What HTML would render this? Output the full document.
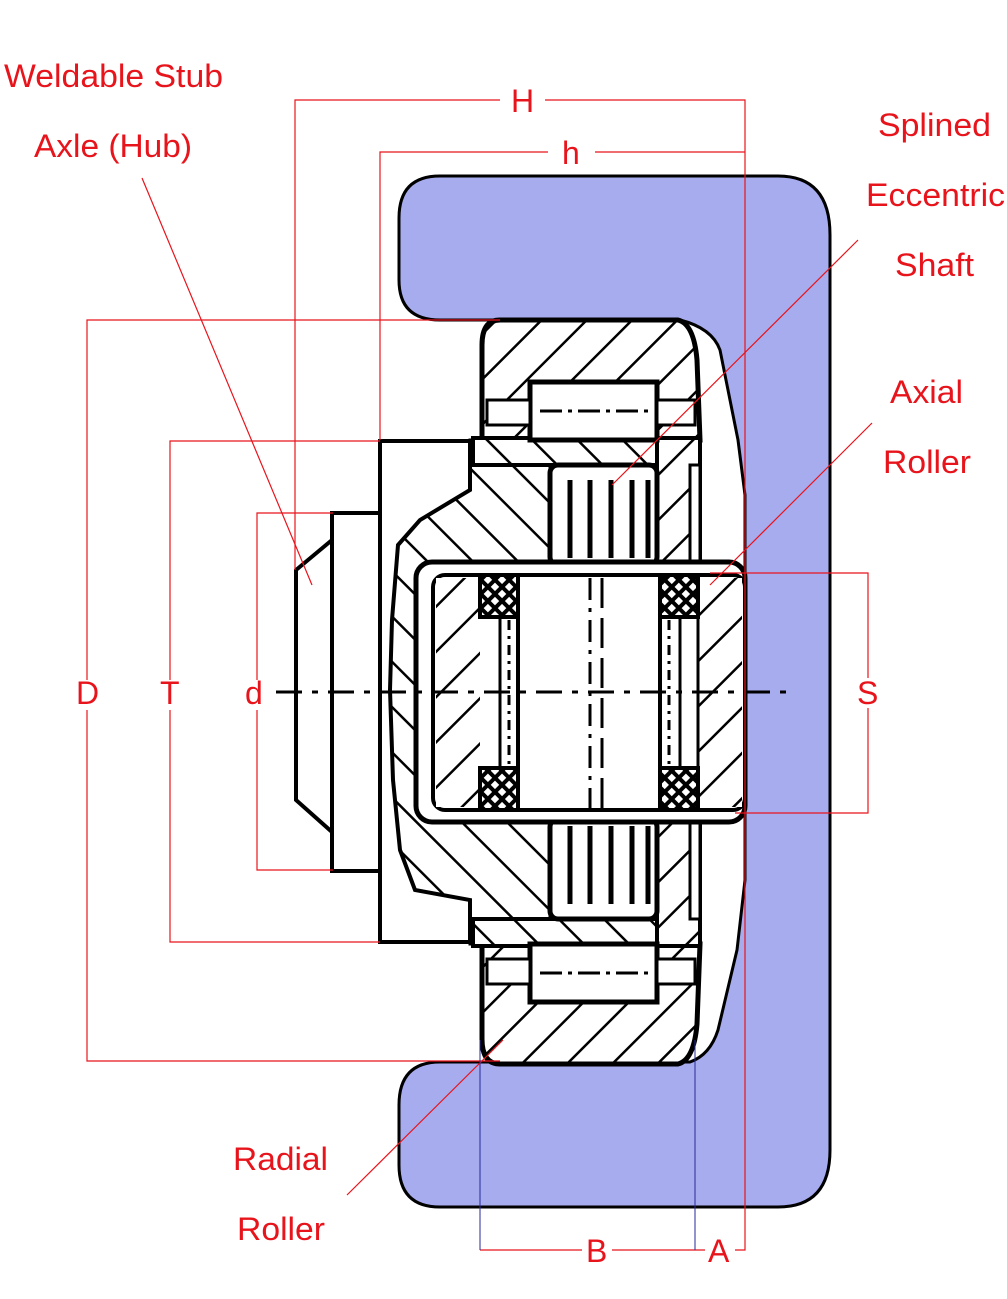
<!DOCTYPE html>
<html><head><meta charset="utf-8"><style>
html,body{margin:0;padding:0;background:#fff}
svg{display:block}
text{font-family:"Liberation Sans",Arial,sans-serif;fill:#e8141c;font-size:32px}
</style></head><body>
<svg width="1007" height="1299" viewBox="0 0 1007 1299" xmlns="http://www.w3.org/2000/svg">
<defs>
<pattern id="hs" width="32" height="32" patternUnits="userSpaceOnUse" patternTransform="rotate(45)">
<rect width="32" height="32" fill="#fff"/><line x1="0" y1="0" x2="0" y2="32" stroke="#000" stroke-width="5"/></pattern>
<pattern id="hb" width="32" height="32" patternUnits="userSpaceOnUse" patternTransform="rotate(-45)">
<rect width="32" height="32" fill="#fff"/><line x1="0" y1="0" x2="0" y2="32" stroke="#000" stroke-width="5"/></pattern>
<pattern id="xh" width="10" height="10" patternUnits="userSpaceOnUse" patternTransform="rotate(45)">
<rect width="10" height="10" fill="#000"/><rect x="2" y="2" width="6" height="6" fill="#fff"/></pattern>
<g id="common">
  <rect x="530" y="382" width="127" height="58" fill="#fff" stroke="#000" stroke-width="5"/>
  <rect x="487" y="400" width="43" height="25" fill="#fff" stroke="#000" stroke-width="3"/>
  <rect x="657" y="400" width="38" height="25" fill="#fff" stroke="#000" stroke-width="3"/>
  <line x1="540" y1="411" x2="650" y2="411" stroke="#000" stroke-width="3" stroke-dasharray="22,6,4,6"/>
  <rect x="690" y="465" width="10" height="108" fill="#fff" stroke="#000" stroke-width="3"/>
  <rect x="550" y="465" width="107" height="100" rx="8" fill="#fff" stroke="#000" stroke-width="5"/>
  <g stroke="#000" stroke-width="5"><line x1="570" y1="480" x2="570" y2="558"/><line x1="590" y1="480" x2="590" y2="558"/><line x1="611" y1="480" x2="611" y2="558"/><line x1="632" y1="480" x2="632" y2="558"/><line x1="648" y1="480" x2="648" y2="558"/></g>
</g>
</defs>

<!-- blue rail -->
<path d="M440,176 H778 Q830,176 830,235 V1150 Q830,1207 778,1207 H440 Q399,1207 399,1165 V1105 Q399,1062 440,1062 H690 Q710,1055 718,1030 L737,950 L745,880 V495 L738,440 L720,350 Q712,328 680,320 H440 Q399,320 399,280 V218 Q399,176 440,176 Z" fill="#a7acef" stroke="#000" stroke-width="3"/>

<!-- hub body hatched -->
<path d="M470,440 L550,440 L550,944 L470,944 L470,900 L415,890 L400,850 L393,780 L390,690 L392,620 L398,545 L420,520 L470,490 Z" fill="url(#hb)" stroke="#000" stroke-width="3"/>

<!-- top half -->
<path d="M500,320 H678 Q694,324 697,360 L700,440 H482 V345 Q482,320 500,320 Z" fill="url(#hs)" stroke="#000" stroke-width="5"/>
<rect x="473" y="438" width="227" height="27" fill="url(#hb)" stroke="#000" stroke-width="4"/>
<rect x="657" y="438" width="43" height="137" fill="url(#hs)" stroke="#000" stroke-width="4"/>
<use href="#common"/>

<!-- bottom half (mirrored coordinates, non-mirrored hatch) -->
<path d="M500,1064 H678 Q694,1060 697,1024 L700,944 H482 V1039 Q482,1064 500,1064 Z" fill="url(#hs)" stroke="#000" stroke-width="5"/>
<rect x="473" y="919" width="227" height="27" fill="url(#hb)" stroke="#000" stroke-width="4"/>
<rect x="657" y="809" width="43" height="137" fill="url(#hs)" stroke="#000" stroke-width="4"/>
<use href="#common" transform="translate(0,1384) scale(1,-1)"/>

<!-- hub -->
<path d="M380,441 H470 V490 L420,520 L398,545 L392,620 L390,690 L393,780 L400,850 L415,890 L470,900 V942 H380 Z" fill="#fff" stroke="#000" stroke-width="4"/>
<rect x="332" y="513" width="48" height="358" fill="#fff" stroke="#000" stroke-width="4"/>
<path d="M332,540 L296,570 V800 L332,832 Z" fill="#fff" stroke="#000" stroke-width="4"/>

<!-- shaft -->
<rect x="416" y="562" width="329" height="260" rx="16" fill="#fff" stroke="#000" stroke-width="5"/>
<rect x="433" y="575" width="312" height="235" rx="12" fill="#fff" stroke="#000" stroke-width="4"/>
<rect x="436" y="578" width="44" height="229" fill="url(#hs)"/>
<rect x="698" y="578" width="44" height="229" fill="url(#hs)"/>
<rect x="480" y="575" width="38" height="42" fill="url(#xh)" stroke="#000" stroke-width="4"/>
<rect x="660" y="575" width="38" height="42" fill="url(#xh)" stroke="#000" stroke-width="4"/>
<rect x="480" y="768" width="38" height="42" fill="url(#xh)" stroke="#000" stroke-width="4"/>
<rect x="660" y="768" width="38" height="42" fill="url(#xh)" stroke="#000" stroke-width="4"/>
<line x1="500" y1="617" x2="500" y2="768" stroke="#000" stroke-width="3"/>
<line x1="518" y1="617" x2="518" y2="768" stroke="#000" stroke-width="3"/>
<line x1="680" y1="617" x2="680" y2="768" stroke="#000" stroke-width="3"/>
<line x1="698" y1="617" x2="698" y2="768" stroke="#000" stroke-width="3"/>
<line x1="509" y1="620" x2="509" y2="765" stroke="#000" stroke-width="3" stroke-dasharray="10,6,3,6"/>
<line x1="669" y1="620" x2="669" y2="765" stroke="#000" stroke-width="3" stroke-dasharray="10,6,3,6"/>
<rect x="518" y="575" width="142" height="235" fill="#fff" stroke="#000" stroke-width="4"/>
<line x1="590" y1="578" x2="590" y2="808" stroke="#000" stroke-width="3" stroke-dasharray="22,8,4,8"/>
<line x1="602" y1="578" x2="602" y2="808" stroke="#000" stroke-width="3" stroke-dasharray="30,10"/>

<!-- center line -->
<line x1="276" y1="692" x2="786" y2="692" stroke="#000" stroke-width="3" stroke-dasharray="26,10,6,10"/>

<!-- dimension lines -->
<g stroke="#e8141c" stroke-width="1.2" fill="none">
<path d="M295,570 V100 H500 M545,100 H745 V1250 H735"/>
<path d="M380,440 V152 H548 M595,152 H745"/>
<path d="M500,320 H87 V680 M87,710 V1061 H500"/>
<path d="M380,441 H170 V680 M170,710 V942 H380"/>
<path d="M333,513 H257 V680 M257,710 V870 H333"/>
<path d="M710,573 H868 V678 M868,708 V813 H735"/>
<path d="M480,1250 H582 M612,1250 H705"/>
<path d="M142,178 L312,585"/>
<path d="M858,240 L612,485"/>
<path d="M872,423 L710,585"/>
<path d="M347,1195 L503,1040"/>
</g>
<g stroke="#2a2a9a" stroke-width="1" fill="none">
<path d="M480,1040 V1250 M695,1040 V1250"/>
</g>

<!-- labels -->
<text x="4" y="87" textLength="219" lengthAdjust="spacingAndGlyphs">Weldable Stub</text>
<text x="34" y="157" textLength="158" lengthAdjust="spacingAndGlyphs">Axle (Hub)</text>
<text x="878" y="136" textLength="113" lengthAdjust="spacingAndGlyphs">Splined</text>
<text x="866" y="206" textLength="139" lengthAdjust="spacingAndGlyphs">Eccentric</text>
<text x="895" y="276" textLength="79" lengthAdjust="spacingAndGlyphs">Shaft</text>
<text x="890" y="403" textLength="73" lengthAdjust="spacingAndGlyphs">Axial</text>
<text x="883" y="473" textLength="88" lengthAdjust="spacingAndGlyphs">Roller</text>
<text x="233" y="1170" textLength="95" lengthAdjust="spacingAndGlyphs">Radial</text>
<text x="237" y="1240" textLength="88" lengthAdjust="spacingAndGlyphs">Roller</text>
<text x="511" y="112">H</text>
<text x="562" y="164">h</text>
<text x="76" y="704">D</text>
<text x="160" y="704">T</text>
<text x="245" y="704">d</text>
<text x="857" y="704">S</text>
<text x="586" y="1262">B</text>
<text x="708" y="1262">A</text>
</svg>
</body></html>
